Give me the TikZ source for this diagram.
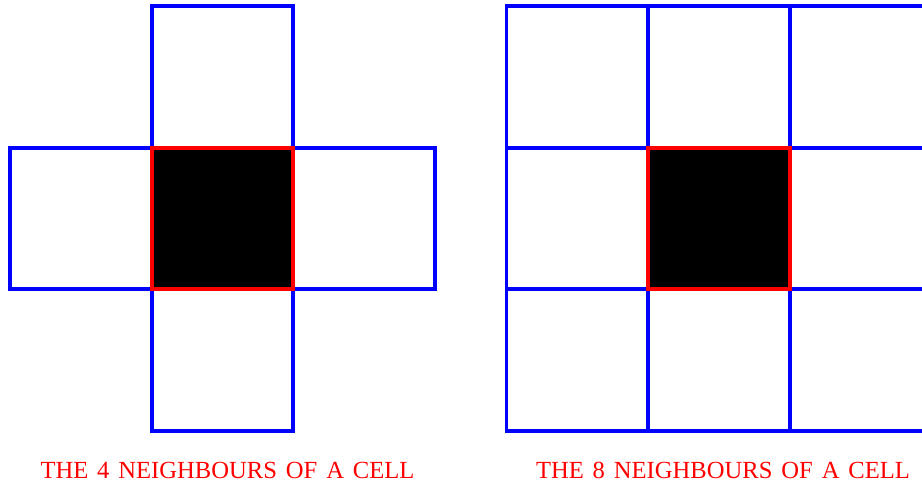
\documentclass[tikz,border=0pt]{standalone}
\usepackage{fontspec}
\setmainfont{Liberation Serif}[WordSpace=1.45]
\usetikzlibrary{positioning}
\definecolor{gridblue}{RGB}{0,0,255}
\definecolor{cellred}{RGB}{255,0,0}
\tikzset{
  cell/.style={rectangle, draw=gridblue, line width=2.2pt,
    minimum size=2.833cm, inner sep=0pt, outer sep=0pt},
  hotcell/.style={cell, draw=cellred, fill=black},
  caption/.style={anchor=base, font=\fontsize{14}{17}\selectfont, text=cellred}
}
\begin{document}
\begin{tikzpicture}
  \useasboundingbox (0,0) rectangle (18.44,-9.7);
  % 4 neighbours
  \node[hotcell] (fc) at (4.45,-4.37) {};
  \node[cell, above=0pt of fc] (fn) {};
  \node[cell, below=0pt of fc] (fs) {};
  \node[cell, left=0pt of fc] (fw) {};
  \node[cell, right=0pt of fc] (fe) {};
  \node[hotcell] at (fc) {};
  \node[caption] (fcap) at (4.55,-9.56) {THE 4 NEIGHBOURS OF A CELL};

  % 8 neighbours
  \node[hotcell] (ec) at (14.38,-4.37) {};
  \node[cell, above=0pt of ec] (en) {};
  \node[cell, below=0pt of ec] (es) {};
  \node[cell, left=0pt of ec] (ew) {};
  \node[cell, right=0pt of ec] (ee) {};
  \node[cell, left=0pt of en] (enw) {};
  \node[cell, right=0pt of en] (ene) {};
  \node[cell, left=0pt of es] (esw) {};
  \node[cell, right=0pt of es] (ese) {};
  \node[hotcell] at (ec) {};
  \node[caption] (ecap) at (14.46,-9.56) {THE 8 NEIGHBOURS OF A CELL};
\end{tikzpicture}
\end{document}
